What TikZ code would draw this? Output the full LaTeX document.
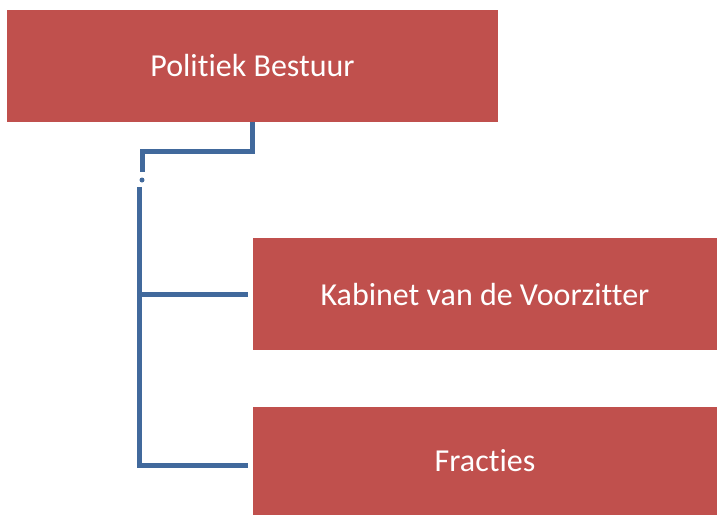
\documentclass[tikz,border=0pt]{standalone}
\usepackage{fontspec}
\setmainfont{Carlito}[Ligatures=NoCommon]
\usetikzlibrary{positioning,calc}
\definecolor{boxred}{HTML}{C0504D}
\definecolor{linkblue}{HTML}{41699C}

\begin{document}
\begin{tikzpicture}[
    x=1pt, y=-1pt,
    unit/.style={rectangle, fill=boxred, text=white, font=\fontsize{32}{36}\selectfont, minimum width=491pt, minimum height=112pt, inner sep=0pt},
    link/.style={draw=linkblue, line width=5pt}
]
\useasboundingbox (0,0) rectangle (717,515);

\node[unit] (bestuur) at (252.5,66) {Politiek Bestuur};
\node[unit, minimum width=464pt] (kabinet) at (485,294) {Kabinet van de Voorzitter};
\node[unit, minimum width=464pt, minimum height=108pt] (fracties) at (485,461) {Fracties};

\coordinate (knik) at (142,151);
\coordinate (stomp) at (142,172);
\coordinate (stip) at (142,180);
\coordinate (stam) at (139,187);

\draw[link] (bestuur.south) |- (knik) -- (stomp);
\fill[linkblue] (stip) circle (2.5pt);
\draw[link] (stam) |- ($(fracties.west)+(-5,4)$);
\draw[link] (stam |- kabinet.west) -- ($(kabinet.west)+(-5,0)$);

\end{tikzpicture}
\end{document}
